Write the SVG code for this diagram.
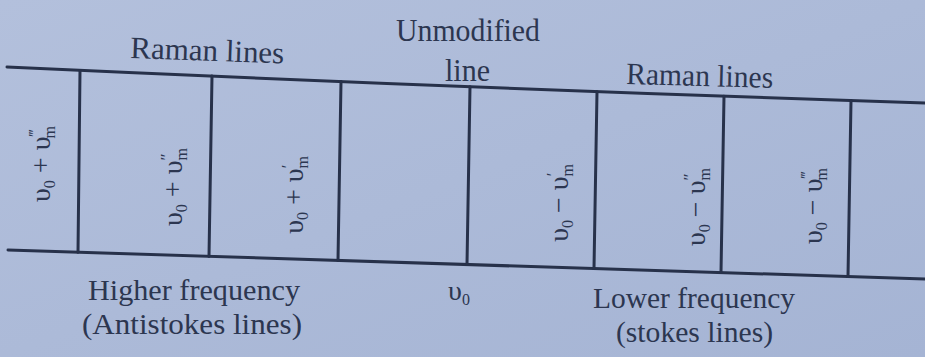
<svg xmlns="http://www.w3.org/2000/svg" width="925" height="357" viewBox="0 0 925 357">
<defs>
<linearGradient id="bg" x1="0" y1="0" x2="1" y2="1">
<stop offset="0" stop-color="#b3c0dc"/>
<stop offset="1" stop-color="#a5b4d4"/>
</linearGradient>
</defs>
<style>
.t{font-family:"Liberation Serif","Times New Roman",serif;font-size:31px;fill:#2c3650}
.f{font-size:30px}
.rl{font-family:"Liberation Serif","Times New Roman",serif;font-size:28px;fill:#2c3650;text-anchor:middle}
.s{font-size:16px}
.p{font-size:17px}
.ln{stroke:#27314a;stroke-width:3;fill:none;stroke-linecap:round}
</style>
<rect width="925" height="357" fill="url(#bg)"/>
<g id="connectors">
<path class="ln" d="M7,67 Q466,88.2 925,103"/>
<path class="ln" d="M8,250 L925,279"/>
<path class="ln" d="M80,70.4 L78,252.2"/>
<path class="ln" d="M212,76.1 L209,256.4"/>
<path class="ln" d="M341,81.5 L338,260.4"/>
<path class="ln" d="M470,86.7 L467,264.5"/>
<path class="ln" d="M597,91.7 L594,268.5"/>
<path class="ln" d="M724,96.2 L721,272.5"/>
<path class="ln" d="M851,100.6 L848,276.6"/>
</g>
<g id="header-left"><text class="t" transform="translate(130,58) rotate(2)" textLength="154" lengthAdjust="spacingAndGlyphs">Raman lines</text></g>
<g id="header-mid"><text class="t" x="396" y="41" textLength="144" lengthAdjust="spacingAndGlyphs">Unmodified</text>
<text class="t" x="445" y="81" textLength="45" lengthAdjust="spacingAndGlyphs">line</text></g>
<g id="header-right"><text class="t" transform="translate(626,84) rotate(1.5)" textLength="147" lengthAdjust="spacingAndGlyphs">Raman lines</text></g>
<g id="cell1"><text class="rl" transform="translate(50,164) rotate(-90)">υ<tspan class="s" dy="5">0</tspan><tspan dy="-5"> + υ</tspan><tspan class="p" dy="-10">‴</tspan><tspan class="s" dx="-9" dy="15">m</tspan></text></g>
<g id="cell2"><text class="rl" transform="translate(182,187) rotate(-90)">υ<tspan class="s" dy="5">0</tspan><tspan dy="-5"> + υ</tspan><tspan class="p" dy="-10">″</tspan><tspan class="s" dx="-7" dy="15">m</tspan></text></g>
<g id="cell3"><text class="rl" transform="translate(303,195) rotate(-90)">υ<tspan class="s" dy="5">0</tspan><tspan dy="-5"> + υ</tspan><tspan class="p" dy="-10">′</tspan><tspan class="s" dx="-4" dy="15">m</tspan></text></g>
<g id="cell4"/>
<g id="cell5"><text class="rl" transform="translate(568,203) rotate(-90)">υ<tspan class="s" dy="5">0</tspan><tspan dy="-5"> − υ</tspan><tspan class="p" dy="-10">′</tspan><tspan class="s" dx="-4" dy="15">m</tspan></text></g>
<g id="cell6"><text class="rl" transform="translate(705,207) rotate(-90)">υ<tspan class="s" dy="5">0</tspan><tspan dy="-5"> − υ</tspan><tspan class="p" dy="-10">″</tspan><tspan class="s" dx="-7" dy="15">m</tspan></text></g>
<g id="cell7"><text class="rl" transform="translate(822,206) rotate(-90)">υ<tspan class="s" dy="5">0</tspan><tspan dy="-5"> − υ</tspan><tspan class="p" dy="-10">‴</tspan><tspan class="s" dx="-9" dy="15">m</tspan></text></g>
<g id="footer-left"><text class="t f" x="88" y="300" textLength="212" lengthAdjust="spacingAndGlyphs">Higher frequency</text>
<text class="t f" x="82" y="334" textLength="220" lengthAdjust="spacingAndGlyphs">(Antistokes lines)</text></g>
<g id="footer-mid"><text class="t" x="448" y="300" style="font-size:28px">υ<tspan class="s" dy="5">0</tspan></text></g>
<g id="footer-right"><text class="t f" x="593" y="308" textLength="202" lengthAdjust="spacingAndGlyphs">Lower frequency</text>
<text class="t f" x="616" y="342" textLength="157" lengthAdjust="spacingAndGlyphs">(stokes lines)</text></g>
</svg>
